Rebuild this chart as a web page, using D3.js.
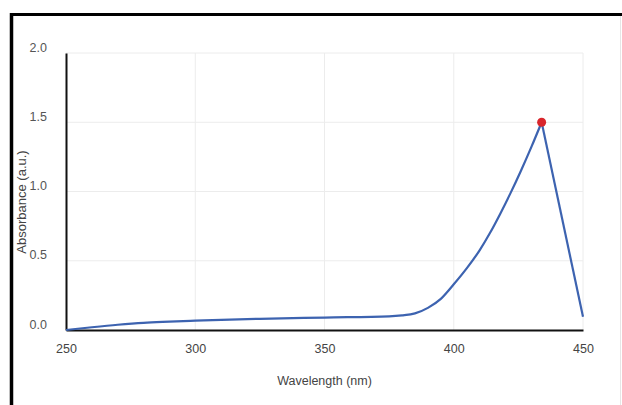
<!DOCTYPE html>
<html>
<head>
<meta charset="utf-8">
<script src="https://cdn.jsdelivr.net/npm/d3@7/dist/d3.min.js"></script>
<style>
html,body{margin:0;padding:0;background:#fff;}
svg{display:block;}
text{font-family:"Liberation Sans",Arial,sans-serif;}
</style>
</head>
<body>
<svg id="chart" width="622" height="405"></svg>
<script>
const wavelengths = [250, 260, 270, 280, 290, 300, 325, 350, 375, 380, 385, 390, 395, 400, 405, 410, 414, 418, 422, 426, 430, 434, 450];
const absorbance  = [0.0, 0.02, 0.038, 0.052, 0.06, 0.067, 0.081, 0.09, 0.098, 0.105, 0.12, 0.16, 0.225, 0.33, 0.445, 0.575, 0.70, 0.84, 0.99, 1.15, 1.32, 1.5, 0.095];
const xTicks = [250, 300, 350, 400, 450];
const yTicks = [0.0, 0.5, 1.0, 1.5, 2.0];
const peakWavelength = 434;
const peakAbsorbance = 1.5;
const xTitle = "Wavelength (nm)";
const yTitle = "Absorbance (a.u.)";

const svg = d3.select("#chart");
const mLeft = 66, mRight = 583, mTop = 53, mBottom = 330;

const x = d3.scaleLinear().domain([250, 450]).range([mLeft, mRight]);
const y = d3.scaleLinear().domain([0, 2]).range([mBottom, mTop]);

// frame
svg.append("line").attr("x1", 11.5).attr("x2", 622).attr("y1", 14.5).attr("y2", 14.5)
  .attr("stroke", "#000").attr("stroke-width", 3);
svg.append("line").attr("x1", 11.5).attr("x2", 11.5).attr("y1", 13).attr("y2", 405)
  .attr("stroke", "#000").attr("stroke-width", 3.5);
svg.append("line").attr("x1", 620.5).attr("x2", 620.5).attr("y1", 16).attr("y2", 405)
  .attr("stroke", "#e6e6e6").attr("stroke-width", 1);

// grid
svg.append("g").selectAll("line").data(yTicks.filter(d => d > 0)).join("line")
  .attr("x1", mLeft).attr("x2", mRight)
  .attr("y1", d => y(d)).attr("y2", d => y(d))
  .attr("stroke", "#ececec").attr("stroke-width", 1);
svg.append("g").selectAll("line").data(xTicks.filter(d => d > 250)).join("line")
  .attr("x1", d => x(d)).attr("x2", d => x(d))
  .attr("y1", mTop).attr("y2", mBottom)
  .attr("stroke", "#ececec").attr("stroke-width", 1);

// axes
const xAxis = d3.axisBottom(x).tickValues(xTicks).tickSize(0).tickPadding(14).tickFormat(d3.format("d"));
const gx = svg.append("g").attr("transform", `translate(0,${mBottom})`).call(xAxis);
gx.select(".domain").attr("stroke", "#111").attr("stroke-width", 2);
gx.selectAll("text").attr("font-size", 12.5).attr("fill", "#444")
  .attr("font-family", '"Liberation Sans",Arial,sans-serif');

const yAxis = d3.axisLeft(y).tickValues(yTicks).tickSize(0).tickPadding(19).tickFormat(d3.format(".1f"));
const gy = svg.append("g").attr("transform", `translate(${mLeft},0)`).call(yAxis);
gy.select(".domain").attr("stroke", "#111").attr("stroke-width", 2);
gy.selectAll("text").attr("font-size", 12.5).attr("fill", "#555").attr("dy", "-0.15em")
  .attr("font-family", '"Liberation Sans",Arial,sans-serif');

// titles
svg.append("text").attr("x", (mLeft + mRight) / 2).attr("y", 385)
  .attr("text-anchor", "middle").attr("font-size", 12.5).attr("fill", "#444").text(xTitle);
svg.append("text").attr("transform", `translate(26,202) rotate(-90)`)
  .attr("text-anchor", "middle").attr("font-size", 13).attr("fill", "#444").text(yTitle);

// line: smooth rise up to the peak, straight drop after it
const peakIdx = wavelengths.indexOf(peakWavelength);
const rise = absorbance.slice(0, peakIdx + 1).map((v, i) => [wavelengths[i], v]);
const fall = absorbance.slice(peakIdx).map((v, i) => [wavelengths[peakIdx + i], v]);
const smooth = d3.line().x(d => x(d[0])).y(d => y(d[1])).curve(d3.curveMonotoneX);
const straight = d3.line().x(d => x(d[0])).y(d => y(d[1]));
svg.append("path").datum(rise).attr("d", smooth)
  .attr("fill", "none").attr("stroke", "#3d63b0").attr("stroke-width", 2.2);
svg.append("path").datum(fall).attr("d", straight)
  .attr("fill", "none").attr("stroke", "#3d63b0").attr("stroke-width", 2.2);

// peak marker
svg.append("circle").attr("cx", x(peakWavelength)).attr("cy", y(peakAbsorbance)).attr("r", 4.5)
  .attr("fill", "#d9262c");
</script>
</body>
</html>
